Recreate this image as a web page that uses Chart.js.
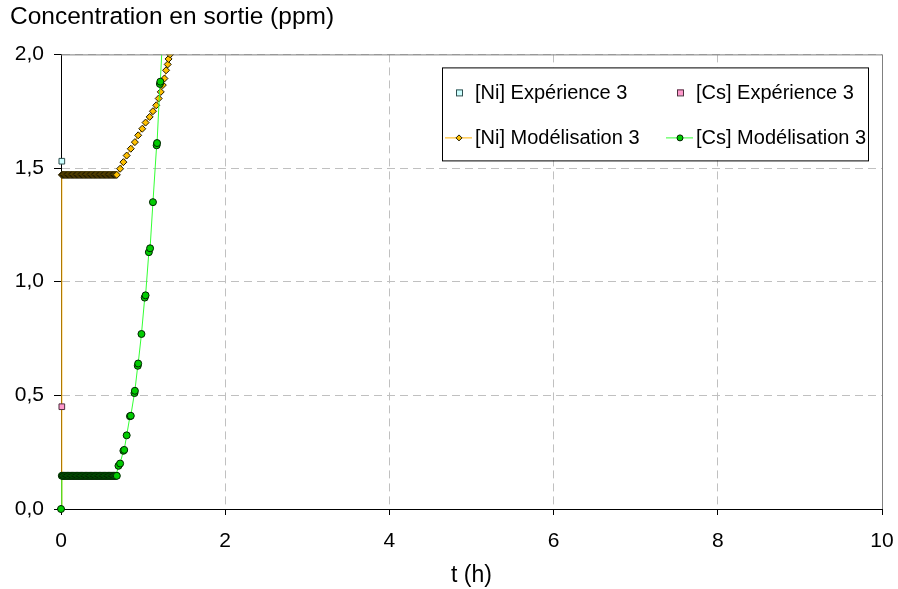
<!DOCTYPE html>
<html>
<head>
<meta charset="utf-8">
<script src="https://cdn.jsdelivr.net/npm/chart.js@4/dist/chart.umd.min.js"></script>
<style>
  html, body { margin: 0; padding: 0; background: #fff; }
  #wrap { width: 898px; height: 589px; }
</style>
</head>
<body>
<div id="wrap"><canvas id="chart" width="898" height="589"></canvas></div>
<script>
// Experimental points
const niExpTime = [0.01];
const niExpConc = [1.53];
const csExpTime = [0.01];
const csExpConc = [0.45];

// plateau sampling times (dense model output, 0 to 0.68 h)
const plateauTime = [0.01, 0.02, 0.03, 0.04, 0.05, 0.06, 0.07, 0.08, 0.09, 0.10,
  0.11, 0.12, 0.13, 0.14, 0.15, 0.16, 0.17, 0.18, 0.19, 0.20,
  0.21, 0.22, 0.23, 0.24, 0.25, 0.26, 0.27, 0.28, 0.29, 0.30,
  0.31, 0.32, 0.33, 0.34, 0.35, 0.36, 0.37, 0.38, 0.39, 0.40,
  0.41, 0.42, 0.43, 0.44, 0.45, 0.46, 0.47, 0.48, 0.49, 0.50,
  0.51, 0.52, 0.53, 0.54, 0.55, 0.56, 0.57, 0.58, 0.59, 0.60,
  0.61, 0.62, 0.63, 0.64, 0.65, 0.66, 0.67, 0.68];
const niPlateau = 1.47;
const csPlateau = 0.146;

// [Ni] model, rising part
const niRiseTime = [0.72, 0.76, 0.80, 0.85, 0.90, 0.94, 0.99, 1.03, 1.08, 1.12, 1.16, 1.19, 1.215, 1.24, 1.26,
  1.28, 1.30, 1.31, 1.33, 1.36];
const niRiseConc = [1.497, 1.526, 1.555, 1.585, 1.614, 1.644, 1.673, 1.70, 1.725, 1.75, 1.776, 1.806, 1.835, 1.865, 1.894,
  1.93, 1.956, 1.98, 2.0, 2.06];

// [Cs] model, rising part
const csRiseTime = [0.70, 0.72, 0.76, 0.77, 0.80, 0.84, 0.85, 0.895, 0.90, 0.935, 0.94, 0.98, 1.02, 1.03, 1.07, 1.085,
  1.12, 1.165, 1.17, 1.205, 1.21, 1.24];
const csRiseConc = [0.19, 0.20, 0.256, 0.26, 0.324, 0.408, 0.41, 0.51, 0.52, 0.63, 0.64, 0.77, 0.93, 0.94, 1.13, 1.147,
  1.35, 1.60, 1.61, 1.87, 1.88, 2.1];

const xTicks = [0, 2, 4, 6, 8, 10];
const yTicks = [0, 0.5, 1, 1.5, 2];

const FONT = '"Liberation Sans", Arial, sans-serif';

const toPoints = (xs, ys) => xs.map((x, i) => ({x: x, y: ys[i]}));

// model curves: t=0 value, plateau, then rise
const niModel = [{x: 0, y: 0}]
  .concat(plateauTime.map(t => ({x: t, y: niPlateau})))
  .concat(toPoints(niRiseTime, niRiseConc));
const csModel = [{x: 0, y: 0}]
  .concat(plateauTime.map(t => ({x: t, y: csPlateau})))
  .concat(toPoints(csRiseTime, csRiseConc));

const data = {
  datasets: [
    {
      label: '[Ni] Expérience 3',
      data: toPoints(niExpTime, niExpConc),
      showLine: false,
      pointStyle: 'rect',
      pointRadius: 4,
      backgroundColor: '#CCFFFF',
      borderColor: '#2f4f4f',
      borderWidth: 1,
      clip: false,
      order: 0
    },
    {
      label: '[Cs] Expérience 3',
      data: toPoints(csExpTime, csExpConc),
      showLine: false,
      pointStyle: 'rect',
      pointRadius: 4,
      backgroundColor: '#FF99CC',
      borderColor: '#4f2f3f',
      borderWidth: 1,
      clip: false,
      order: 0
    },
    {
      label: '[Ni] Modélisation 3',
      data: niModel,
      showLine: true,
      borderColor: '#FFB000',
      borderWidth: 1,
      pointStyle: 'rectRot',
      pointRadius: 3.5,
      pointBackgroundColor: '#FFC000',
      pointBorderColor: '#1e1800',
      pointBorderWidth: 1,
      tension: 0,
      clip: {left: 6, bottom: 6, top: 0, right: 0},
      order: 2
    },
    {
      label: '[Cs] Modélisation 3',
      data: csModel,
      showLine: true,
      borderColor: '#33FF33',
      borderWidth: 1,
      pointStyle: 'circle',
      pointRadius: 3.5,
      pointBackgroundColor: '#00CC00',
      pointBorderColor: '#002200',
      pointBorderWidth: 1,
      tension: 0,
      clip: {left: 6, bottom: 6, top: 0, right: 0},
      order: 1
    }
  ]
};

// gray frame on top/right + boxed legend inside plot
const framePlugin = {
  id: 'frameLegend',
  afterDraw(chart) {
    const {ctx, chartArea} = chart;
    ctx.save();
    ctx.strokeStyle = '#808080';
    ctx.lineWidth = 1;
    ctx.beginPath();
    ctx.moveTo(chartArea.left, chartArea.top + 0.5);
    ctx.lineTo(chartArea.right + 0.5, chartArea.top + 0.5);
    ctx.lineTo(chartArea.right + 0.5, chartArea.bottom);
    ctx.stroke();

    // legend box
    const bx = chartArea.right - 440, by = chartArea.top + 13, bw = 426, bh = 93;
    ctx.fillStyle = '#fff';
    ctx.fillRect(bx, by, bw, bh);
    ctx.strokeStyle = '#000';
    ctx.strokeRect(bx + 0.5, by + 0.5, bw, bh);

    const cols = [bx, bx + 221];
    const rows = [by + 25, by + 70];
    chart.data.datasets.forEach((d, i) => {
      const cx = cols[i % 2];
      const cy = rows[Math.floor(i / 2)];
      const mx = cx + 17;
      if (d.showLine) {
        ctx.strokeStyle = d.borderColor;
        ctx.lineWidth = 1;
        ctx.beginPath();
        ctx.moveTo(cx + 3, cy + 0.5);
        ctx.lineTo(cx + 30, cy + 0.5);
        ctx.stroke();
        ctx.fillStyle = d.pointBackgroundColor;
        ctx.strokeStyle = d.pointBorderColor;
        ctx.beginPath();
        if (d.pointStyle === 'circle') {
          ctx.arc(mx, cy + 0.5, 3, 0, Math.PI * 2);
        } else {
          ctx.moveTo(mx, cy - 2.5); ctx.lineTo(mx + 3, cy + 0.5);
          ctx.lineTo(mx, cy + 3.5); ctx.lineTo(mx - 3, cy + 0.5); ctx.closePath();
        }
        ctx.fill(); ctx.stroke();
      } else {
        ctx.fillStyle = d.backgroundColor;
        ctx.strokeStyle = d.borderColor;
        ctx.fillRect(mx - 3, cy - 3, 6, 6);
        ctx.strokeRect(mx - 2.5, cy - 2.5, 6, 6);
      }
      ctx.fillStyle = '#000';
      ctx.font = '20px ' + FONT;
      ctx.textBaseline = 'middle';
      ctx.textAlign = 'left';
      ctx.fillText(d.label, cx + 33, cy + 1);
    });
    ctx.restore();
  }
};

const config = {
  type: 'scatter',
  data: data,
  options: {
    responsive: false,
    animation: false,
    layout: {padding: {left: 10, right: 16, top: 0, bottom: 0}},
    scales: {
      x: {
        type: 'linear',
        min: 0,
        max: 10,
        afterBuildTicks: (scale) => { scale.ticks = xTicks.map(v => ({value: v})); },
        afterFit: (scale) => {
          scale.height = 80;
          scale.paddingRight = 0;
          scale.paddingLeft = 0;
        },
        ticks: {
          color: '#000',
          font: {family: FONT, size: 21},
          padding: 14,
          maxRotation: 0
        },
        grid: {
          color: '#c0c0c0',
          tickColor: '#000',
          tickLength: 6,
          tickBorderDash: []
        },
        border: {color: '#000', width: 1, dash: [8, 5]},
        title: {
          display: true,
          text: 't (h)',
          color: '#000',
          font: {family: FONT, size: 23},
          padding: {top: 0, bottom: 0}
        }
      },
      y: {
        type: 'linear',
        min: 0,
        max: 2,
        afterBuildTicks: (scale) => { scale.ticks = yTicks.map(v => ({value: v})); },
        afterFit: (scale) => { scale.width = 51; },
        ticks: {
          color: '#000',
          font: {family: FONT, size: 21},
          padding: 10,
          callback: (v) => v.toFixed(1).replace('.', ',')
        },
        grid: {
          color: '#c0c0c0',
          tickColor: '#000',
          tickLength: 7,
          tickBorderDash: []
        },
        border: {color: '#000', width: 1, dash: [8, 5]}
      }
    },
    plugins: {
      legend: {display: false},
      tooltip: {enabled: false},
      title: {
        display: true,
        text: 'Concentration en sortie (ppm)',
        align: 'start',
        color: '#000',
        font: {family: FONT, size: 24.5, weight: 'normal'},
        padding: {top: 3, bottom: 22}
      }
    }
  },
  plugins: [framePlugin]
};

const ctx1 = document.getElementById('chart').getContext('2d');
const myChart = new Chart(ctx1, config);
</script>
</body>
</html>
